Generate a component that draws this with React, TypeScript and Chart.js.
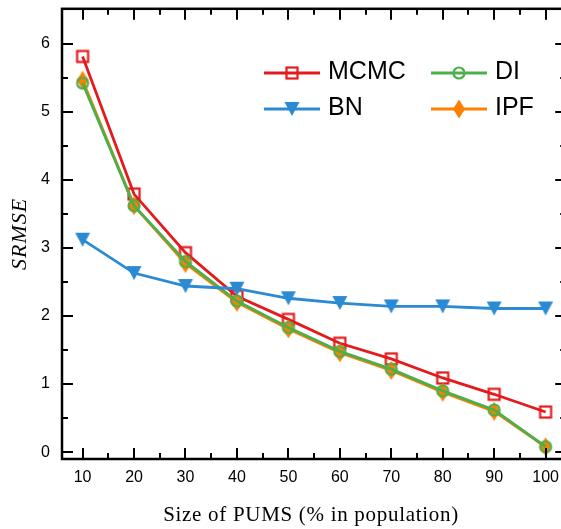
import React, { useEffect, useRef } from "react";
import { Chart, registerables } from "chart.js";

Chart.register(...registerables);

const xValues = [10, 20, 30, 40, 50, 60, 70, 80, 90, 100];
const mcmc = [5.81, 3.79, 2.93, 2.29, 1.95, 1.6, 1.37, 1.09, 0.85, 0.59];
const bn = [3.12, 2.63, 2.44, 2.4, 2.26, 2.19, 2.14, 2.14, 2.11, 2.11];
const di = [5.42, 3.62, 2.8, 2.22, 1.83, 1.48, 1.22, 0.9, 0.62, 0.08];
const ipf = [5.46, 3.62, 2.77, 2.2, 1.81, 1.46, 1.2, 0.88, 0.6, 0.08];
const xMajorTicks = [10, 20, 30, 40, 50, 60, 70, 80, 90, 100];
const xMinorTicks = [15, 25, 35, 45, 55, 65, 75, 85, 95];
const yMajorTicks = [0, 1, 2, 3, 4, 5, 6];
const yMinorTicks = [0.5, 1.5, 2.5, 3.5, 4.5, 5.5];
const xTitle = "Size of PUMS (% in population)";
const yTitle = "SRMSE";

const RED = "#e41a1c";
const BLUE = "#2a8ad4";
const GREEN = "#4daf4a";
const ORANGE = "#ff7f00";

function makeMarker(type: string): HTMLCanvasElement {
  const c = document.createElement("canvas");
  const s = 22;
  c.width = s;
  c.height = s;
  const ctx = c.getContext("2d")!;
  const m = s / 2;
  if (type === "square") {
    ctx.strokeStyle = RED;
    ctx.lineWidth = 2.2;
    ctx.strokeRect(m - 5.5, m - 5.5, 11, 11);
  } else if (type === "circle") {
    ctx.strokeStyle = GREEN;
    ctx.lineWidth = 2.2;
    ctx.beginPath();
    ctx.arc(m, m, 5.5, 0, Math.PI * 2);
    ctx.stroke();
  } else if (type === "tri") {
    ctx.fillStyle = BLUE;
    ctx.beginPath();
    ctx.moveTo(m - 7.5, m - 7);
    ctx.lineTo(m + 7.5, m - 7);
    ctx.lineTo(m, m + 7);
    ctx.closePath();
    ctx.fill();
  } else if (type === "diamond") {
    ctx.fillStyle = ORANGE;
    ctx.beginPath();
    ctx.moveTo(m, m - 9.5);
    ctx.lineTo(m + 6, m);
    ctx.lineTo(m, m + 9.5);
    ctx.lineTo(m - 6, m);
    ctx.closePath();
    ctx.fill();
  }
  return c;
}

export default function App() {
  const ref = useRef<HTMLCanvasElement | null>(null);

  useEffect(() => {
    document.body.style.margin = "0";
    document.body.style.overflow = "hidden";
    const sq = makeMarker("square");
    const ci = makeMarker("circle");
    const tr = makeMarker("tri");
    const di2 = makeMarker("diamond");

    const framePlugin = {
      id: "frame",
      afterDraw(chart: any) {
        const ctx = chart.ctx;
        const { left, right, top, bottom } = chart.chartArea;
        const xs = chart.scales.x;
        const ys = chart.scales.y;
        ctx.save();
        ctx.strokeStyle = "#000";
        ctx.lineWidth = 2;
        ctx.beginPath();
        const tick = (v: number, major: boolean, axis: string) => {
          const L = major ? 11 : 6;
          if (axis === "x") {
            const p = Math.round(xs.getPixelForValue(v));
            ctx.moveTo(p, bottom);
            ctx.lineTo(p, bottom - L);
            ctx.moveTo(p, top);
            ctx.lineTo(p, top + L);
          } else {
            const p = Math.round(ys.getPixelForValue(v));
            ctx.moveTo(left, p);
            ctx.lineTo(left + L, p);
            ctx.moveTo(right, p);
            ctx.lineTo(right - L, p);
          }
        };
        xMajorTicks.forEach((v) => tick(v, true, "x"));
        xMinorTicks.forEach((v) => tick(v, false, "x"));
        yMajorTicks.forEach((v) => tick(v, true, "y"));
        yMinorTicks.forEach((v) => tick(v, false, "y"));
        ctx.stroke();
        ctx.lineWidth = 2.5;
        ctx.strokeRect(left, top, right - left, bottom - top);

        // axis titles
        ctx.fillStyle = "#000";
        ctx.textAlign = "center";
        ctx.textBaseline = "middle";
        ctx.font = "21px 'Liberation Serif', serif";
        (ctx as any).letterSpacing = "0.7px";
        ctx.fillText(xTitle, 311, 515);
        ctx.save();
        ctx.translate(20, (top + bottom) / 2);
        ctx.rotate(-Math.PI / 2);
        ctx.font = "italic 22px 'Liberation Serif', serif";
        (ctx as any).letterSpacing = "1px";
        ctx.fillText(yTitle, 0, 0);
        ctx.restore();
        (ctx as any).letterSpacing = "0px";

        // legend
        const items = [
          { label: "MCMC", color: RED, marker: sq, x: 264, y: 73 },
          { label: "BN", color: BLUE, marker: tr, x: 264, y: 109 },
          { label: "DI", color: GREEN, marker: ci, x: 431, y: 73 },
          { label: "IPF", color: ORANGE, marker: di2, x: 431, y: 109 },
        ];
        ctx.font = "25px 'Liberation Sans', Arial, sans-serif";
        ctx.textAlign = "left";
        ctx.textBaseline = "alphabetic";
        items.forEach((it) => {
          ctx.strokeStyle = it.color;
          ctx.lineWidth = 2.8;
          ctx.beginPath();
          ctx.moveTo(it.x, it.y);
          ctx.lineTo(it.x + 56, it.y);
          ctx.stroke();
          ctx.drawImage(it.marker, it.x + 28 - it.marker.width / 2, it.y - it.marker.height / 2);
          ctx.fillStyle = "#000";
          ctx.fillText(it.label, it.x + 64, it.y + 6);
        });
        ctx.restore();
      },
    };

    const mk = (label: string, data: number[], color: string, marker: HTMLCanvasElement, order: number) => ({
      label,
      data: data.map((v, i) => ({ x: xValues[i], y: v })),
      borderColor: color,
      backgroundColor: color,
      borderWidth: 2.8,
      pointStyle: marker,
      pointRadius: 6,
      tension: 0,
      order,
    });

    const chart = new Chart(ref.current!, {
      type: "line",
      data: {
        datasets: [
          mk("MCMC", mcmc, RED, sq, 3),
          mk("IPF", ipf, ORANGE, di2, 2),
          mk("DI", di, GREEN, ci, 1),
          mk("BN", bn, BLUE, tr, 0),
        ] as any,
      },
      options: {
        animation: false,
        responsive: true,
        maintainAspectRatio: false,
        layout: { padding: { top: 8, right: 8, left: 0, bottom: 0 } },
        plugins: { legend: { display: false }, tooltip: { enabled: false } },
        scales: {
          x: {
            type: "linear",
            min: 6,
            max: 104,
            afterBuildTicks: (s: any) => {
              s.ticks = xMajorTicks.map((v) => ({ value: v }));
            },
            afterFit: (s: any) => {
              s.height = 70;
              s.paddingLeft = 0;
              s.paddingRight = 0;
            },
            grid: { display: false, drawTicks: false },
            border: { display: false },
            ticks: {
              padding: 9,
              color: "#000",
              maxRotation: 0,
              autoSkip: false,
              font: { family: "'Liberation Sans', Arial, sans-serif", size: 16 },
            },
          },
          y: {
            type: "linear",
            min: -0.1,
            max: 6.51,
            afterBuildTicks: (s: any) => {
              s.ticks = yMajorTicks.map((v) => ({ value: v }));
            },
            afterFit: (s: any) => {
              s.width = 62;
              s.paddingTop = 0;
              s.paddingBottom = 0;
            },
            grid: { display: false, drawTicks: false },
            border: { display: false },
            ticks: {
              padding: 12,
              color: "#000",
              font: { family: "'Liberation Sans', Arial, sans-serif", size: 16 },
            },
          },
        },
      },
      plugins: [framePlugin],
    } as any);
    return () => chart.destroy();
  }, []);

  return (
    <div style={{ position: "fixed", left: 0, top: 0, width: 575, height: 529, background: "#fff" }}>
      <canvas ref={ref} />
    </div>
  );
}
